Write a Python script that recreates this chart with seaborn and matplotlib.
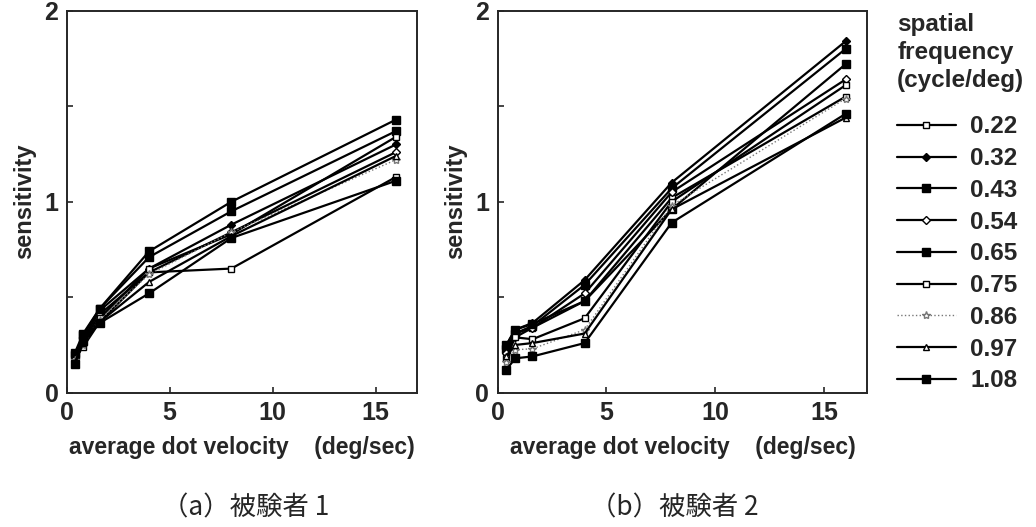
import numpy as np
import pandas as pd
import matplotlib
matplotlib.use('Agg')
import matplotlib.pyplot as plt
import seaborn as sns

# velocities (deg/sec) and spatial frequencies (cycle/deg)
velocity = [0.4, 0.8, 1.6, 4, 8, 16]
freqs = ['0.22', '0.32', '0.43', '0.54', '0.65', '0.75', '0.86', '0.97', '1.08']

# subject 1 sensitivity, one list per spatial frequency
subj1_022 = [0.18, 0.24, 0.37, 0.63, 0.65, 1.13]
subj1_032 = [0.19, 0.28, 0.43, 0.65, 0.88, 1.30]
subj1_043 = [0.20, 0.30, 0.44, 0.71, 0.95, 1.37]
subj1_054 = [0.18, 0.27, 0.41, 0.63, 0.84, 1.26]
subj1_065 = [0.21, 0.31, 0.44, 0.74, 1.00, 1.43]
subj1_075 = [0.17, 0.26, 0.39, 0.65, 0.83, 1.34]
subj1_086 = [0.17, 0.25, 0.38, 0.62, 0.84, 1.22]
subj1_097 = [0.16, 0.26, 0.37, 0.58, 0.82, 1.24]
subj1_108 = [0.15, 0.27, 0.365, 0.52, 0.81, 1.11]

# subject 2
subj2_022 = [0.22, 0.31, 0.34, 0.48, 1.02, 1.55]
subj2_032 = [0.25, 0.33, 0.365, 0.59, 1.10, 1.84]
subj2_043 = [0.23, 0.31, 0.35, 0.565, 1.07, 1.80]
subj2_054 = [0.21, 0.29, 0.34, 0.52, 1.05, 1.64]
subj2_065 = [0.25, 0.33, 0.36, 0.48, 0.96, 1.72]
subj2_075 = [0.18, 0.29, 0.28, 0.39, 1.00, 1.61]
subj2_086 = [0.16, 0.225, 0.23, 0.33, 0.98, 1.54]
subj2_097 = [0.19, 0.25, 0.26, 0.31, 0.96, 1.44]
subj2_108 = [0.12, 0.18, 0.19, 0.26, 0.89, 1.46]

subj1 = [subj1_022, subj1_032, subj1_043, subj1_054, subj1_065,
         subj1_075, subj1_086, subj1_097, subj1_108]
subj2 = [subj2_022, subj2_032, subj2_043, subj2_054, subj2_065,
         subj2_075, subj2_086, subj2_097, subj2_108]

rows = []
for subj, series in [(1, subj1), (2, subj2)]:
    for f, vals in zip(freqs, series):
        for v, s in zip(velocity, vals):
            rows.append({'subject': subj, 'freq': f, 'velocity': v, 'sensitivity': s})
df = pd.DataFrame(rows)

# marker styles per frequency: (marker, filled, size)
styles = {
    '0.22': ('s', False, 4.5),
    '0.32': ('D', True, 4),
    '0.43': ('s', True, 6),
    '0.54': ('D', False, 4),
    '0.65': ('s', True, 6),
    '0.75': ('s', False, 5),
    '0.86': ('*', False, 6),
    '0.97': ('^', False, 5),
    '1.08': ('s', True, 6),
}

sns.set_style('ticks')
plt.rcParams['font.family'] = ['Liberation Sans', 'DejaVu Sans']
plt.rcParams['font.weight'] = 'bold'
plt.rcParams['axes.labelweight'] = 'bold'

fig = plt.figure(figsize=(10.36, 5.27), dpi=100)
ax1 = fig.add_axes([0.0644, 0.2548, 0.3378, 0.7249])
ax2 = fig.add_axes([0.4804, 0.2548, 0.3568, 0.7249])

for ax, subj in [(ax1, 1), (ax2, 2)]:
    for f in freqs:
        m, filled, ms = styles[f]
        sub = df[(df.subject == subj) & (df.freq == f)]
        if f == '0.86':
            col, ls, lw = '#777777', ':', 1.0
        else:
            col, ls, lw = 'black', '-', 1.6
        sns.lineplot(data=sub, x='velocity', y='sensitivity', ax=ax,
                     color=col, linestyle=ls, linewidth=lw,
                     marker=m, markersize=ms,
                     markerfacecolor=col if filled else 'white',
                     markeredgecolor=col, markeredgewidth=1.0,
                     label=f, legend=False)
    ax.set_xlim(0, 17)
    ax.set_ylim(0, 2)
    ax.set_xticks([0, 5, 10, 15])
    ax.set_yticks([0, 0.5, 1, 1.5, 2])
    ax.set_yticklabels(['0', '', '1', '', '2'])
    ax.tick_params(direction='in', length=4, width=1.2, labelsize=18, pad=6)
    for sp in ax.spines.values():
        sp.set_linewidth(1.4)
        sp.set_visible(True)
    ax.set_xlabel('average dot velocity    (deg/sec)', fontsize=16.5, labelpad=8)
    ax.set_ylabel('sensitivity', fontsize=17, labelpad=6)

# legend title drawn separately for line spacing control
fig.text(0.866, 0.976, 'spatial\nfrequency\n(cycle/deg)', fontsize=17.5,
         fontweight='bold', ha='left', va='top', linespacing=1.3)

handles = ax2.get_lines()[:len(freqs)]
leg = fig.legend(handles, freqs, loc='upper left', bbox_to_anchor=(0.866, 0.781),
                 frameon=False, fontsize=17.5, handlelength=2.4,
                 handletextpad=0.6, labelspacing=0.36, borderpad=0, borderaxespad=0)

cjk = ['Noto Sans CJK JP', 'DejaVu Sans']
fig.text(0.2375, 0.036, '（a）被験者 1', fontsize=19, ha='center', va='center',
         family=cjk, fontweight='normal')
fig.text(0.6505, 0.036, '（b）被験者 2', fontsize=19, ha='center', va='center',
         family=cjk, fontweight='normal')

fig.savefig('out.png', dpi=100)
